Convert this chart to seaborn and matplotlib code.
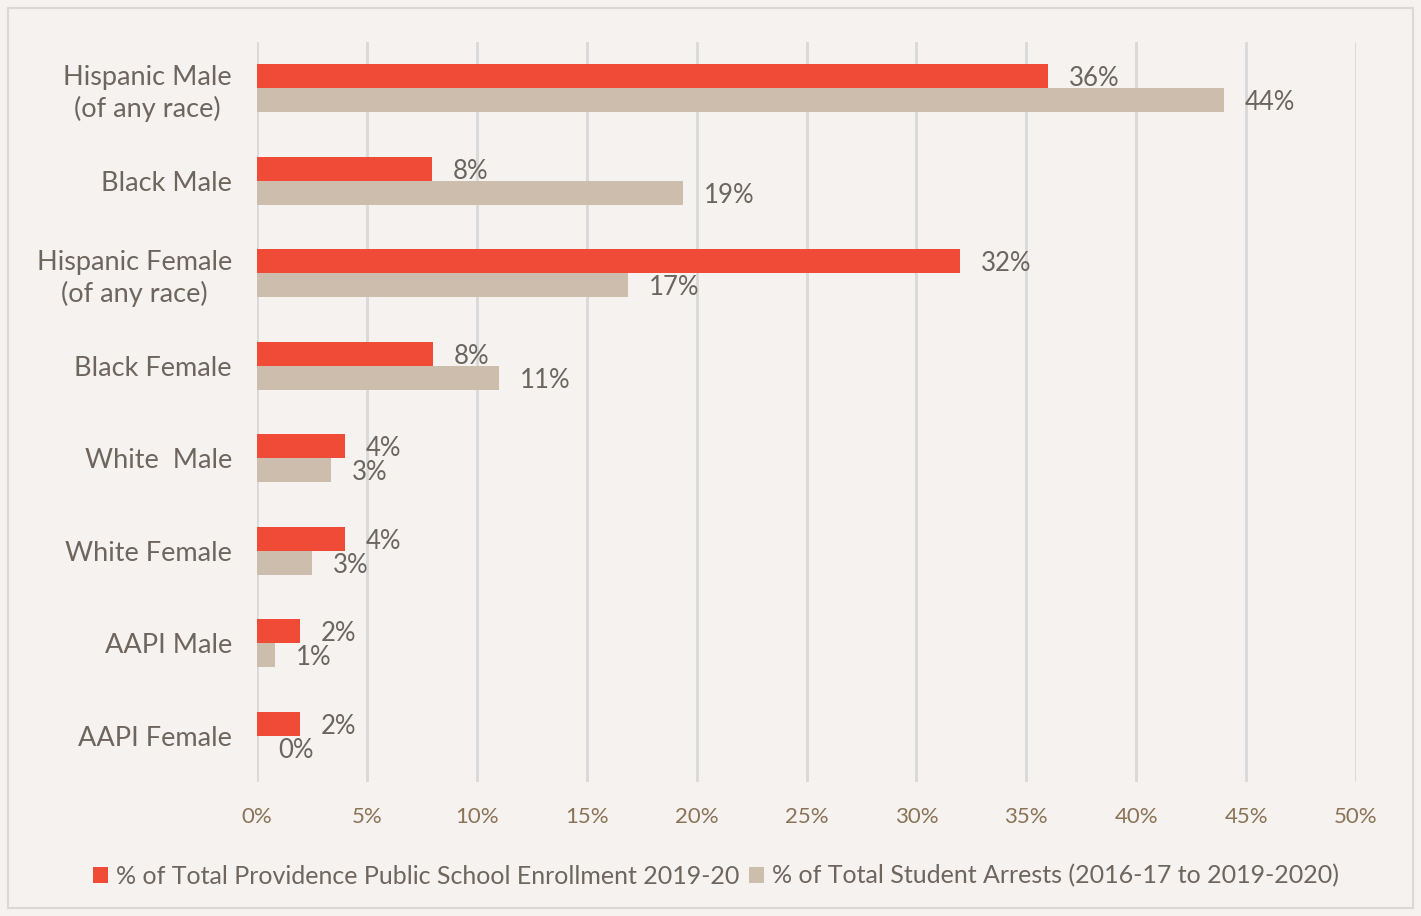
import matplotlib
matplotlib.use("Agg")
import matplotlib.pyplot as plt
import seaborn as sns
import pandas as pd
from matplotlib.patches import Rectangle

categories = ["Hispanic Male\n(of any race)", "Black Male", "Hispanic Female\n(of any race)",
              "Black Female", "White  Male", "White Female", "AAPI Male", "AAPI Female"]
enrollment = [36.0, 7.96, 32.0, 8.0, 4.0, 4.0, 1.96, 1.96]
arrests = [44.0, 19.4, 16.9, 11.0, 3.37, 2.5, 0.82, 0.0]
enroll_labels = ["36%", "8%", "32%", "8%", "4%", "4%", "2%", "2%"]
arrest_labels = ["44%", "19%", "17%", "11%", "3%", "3%", "1%", "0%"]
series = ["% of Total Providence Public School Enrollment 2019-20",
          "% of Total Student Arrests (2016-17 to 2019-2020)"]
xticks = [0, 5, 10, 15, 20, 25, 30, 35, 40, 45, 50]

df = pd.DataFrame({
    "cat": categories * 2,
    "val": enrollment + arrests,
    "series": [series[0]] * len(categories) + [series[1]] * len(categories),
})

sns.set_theme(style="white")
plt.rcParams['font.family'] = ['Lato', 'DejaVu Sans']

bg = "#F5F2EF"
red = "#F04B36"
beige = "#CDBDAD"
fig = plt.figure(figsize=(14.21, 9.16), dpi=100, facecolor=bg)
ax = fig.add_axes([257 / 1421, 1 - 782 / 916, (1356 - 257) / 1421, (782 - 42) / 916])
ax.set_facecolor(bg)

sns.barplot(data=df, x="val", y="cat", hue="series", orient="h", palette=[red, beige],
            width=0.52, ax=ax, legend=True, saturation=1, edgecolor="none")

ax.set_xlim(0, 50)
ax.set_ylim(7.5, -0.5)
ax.set_xticks(xticks)
ax.set_xticklabels([f"{t}%" for t in xticks], color="#8A7356", fontsize=16)
ax.tick_params(axis="x", pad=18, length=0)
ax.tick_params(axis="y", pad=18, length=0)
for lbl in ax.get_yticklabels():
    lbl.set_color("#6E665E")
    lbl.set_fontsize(19.5)
    lbl.set_multialignment("center")
    lbl.set_linespacing(1.25)
ax.set_xlabel("")
ax.set_ylabel("")
ax.grid(axis="x", color="#D9D9D9", linewidth=2)
ax.set_axisbelow(True)
for s in ax.spines.values():
    s.set_visible(False)

for container, labels in zip(ax.containers, [enroll_labels, arrest_labels]):
    texts = ax.bar_label(container, labels=labels, padding=15, fontsize=18.5, color="#6B655F")
    for t in texts:
        t.set_va("center_baseline")

handles, labs = ax.get_legend_handles_labels()
leg = ax.legend(handles, labs, loc="center", bbox_to_anchor=(716 / 1421, 1 - 876 / 916),
                bbox_transform=fig.transFigure, ncol=2, frameon=False, fontsize=18,
                handlelength=0.6, handleheight=0.6, handletextpad=0.3, columnspacing=0.4,
                labelcolor="#6E665E")

fig.patches.append(Rectangle((8 / 1421, 8 / 916), 1405 / 1421, 900 / 916, transform=fig.transFigure,
                             fill=False, edgecolor="#D9D9D9", linewidth=1.5))

fig.savefig("out.png", dpi=100, facecolor=bg)
